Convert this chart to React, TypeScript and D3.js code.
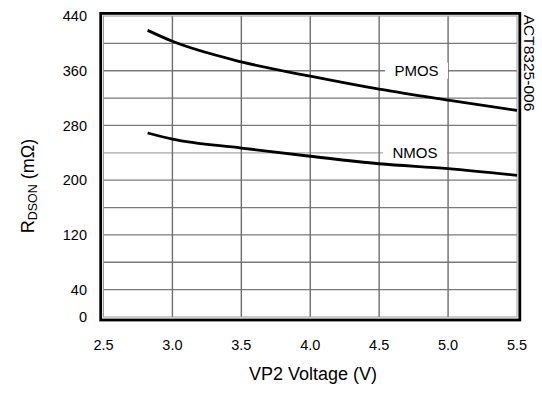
import React from 'react';
import { scaleLinear, line, curveMonotoneX, range } from 'd3';

// values
const voltage = [2.82, 3.0, 3.5, 4.0, 4.5, 5.0, 5.5];
const pmos = [419, 403, 373, 352, 333, 317, 302];
const nmos = [269, 260, 247, 235, 224, 217, 207];

const xTicks = [2.5, 3.0, 3.5, 4.0, 4.5, 5.0, 5.5];
const yTickLabels = [0, 40, 120, 200, 280, 360, 440];
const yGrid = range(40, 440, 40);

const dims = {
    width: 542,
    height: 400,
    left: 103.5,
    right: 517,
    top: 16,
    bottom: 317,
};

const font = '"Liberation Sans", Arial, sans-serif';

const App: React.FC = () => {
    const x = scaleLinear().domain([2.5, 5.5]).range([dims.left, dims.right]);
    const y = scaleLinear().domain([0, 440]).range([dims.bottom, dims.top]);

    const path = line<number>()
        .x((_, i) => x(voltage[i]))
        .y(d => y(d))
        .curve(curveMonotoneX);

    const labels = [
        { text: 'PMOS', r: 360, gap: [385, 448] },
        { text: 'NMOS', r: 240, gap: [383, 447] },
    ];

    return (
        <svg width={dims.width} height={dims.height}
            style={{ position: 'absolute', left: 0, top: 0, background: 'white' }}
            fontFamily={font}>
            {/* grid */}
            {yGrid.map(v => (
                <line key={'h' + v} x1={dims.left} x2={dims.right} y1={y(v)} y2={y(v)}
                    stroke={v === 240 ? '#aaa' : '#7a7a7a'} strokeWidth={1.3} />
            ))}
            {xTicks.slice(1, -1).map(v => (
                <line key={'v' + v} x1={x(v)} x2={x(v)} y1={dims.top} y2={dims.bottom}
                    stroke="#6e6e6e" strokeWidth={1.4} />
            ))}
            {/* inner thin frame */}
            <rect x={dims.left} y={dims.top} width={dims.right - dims.left} height={dims.bottom - dims.top}
                fill="none" stroke="#999" strokeWidth={1} />
            {/* outer thick frame */}
            <rect x={dims.left - 2.8} y={dims.top - 2.6} width={dims.right - dims.left + 5.6}
                height={dims.bottom - dims.top + 5.6} fill="none" stroke="#000" strokeWidth={2.8} />

            {/* curve labels with white boxes over the grid */}
            {labels.map(l => (
                <g key={l.text}>
                    <rect x={l.gap[0]} y={y(l.r) - 8} width={l.gap[1] - l.gap[0]} height={16} fill="white" />
                    <text x={(l.gap[0] + l.gap[1]) / 2} y={y(l.r)} dy="0.35em" textAnchor="middle"
                        fontSize={15}>{l.text}</text>
                </g>
            ))}

            {/* curves */}
            <path d={path(pmos) || ''} fill="none" stroke="#000" strokeWidth={2.8} />
            <path d={path(nmos) || ''} fill="none" stroke="#000" strokeWidth={2.8} />

            {/* y tick labels */}
            {yTickLabels.map(v => (
                <text key={'yl' + v} x={87} y={y(v)} dy="0.35em" textAnchor="end" fontSize={14.5}>{v}</text>
            ))}
            {/* x tick labels */}
            {xTicks.map(v => (
                <text key={'xl' + v} x={x(v)} y={345} dy="0.35em" textAnchor="middle" fontSize={14.5}>
                    {v.toFixed(1)}
                </text>
            ))}

            {/* axis titles */}
            <text x={313} y={374} dy="0.35em" textAnchor="middle" fontSize={18}>VP2 Voltage (V)</text>
            <text transform="translate(34,186) rotate(-90)" textAnchor="middle" fontSize={18}>
                R<tspan fontSize={12.5} dy={3}>DSON</tspan><tspan dy={-3}> (mΩ)</tspan>
            </text>
            <text transform="translate(524,63) rotate(90)" textAnchor="middle" fontSize={15.5}>ACT8325-006</text>
        </svg>
    );
};

export default App;
